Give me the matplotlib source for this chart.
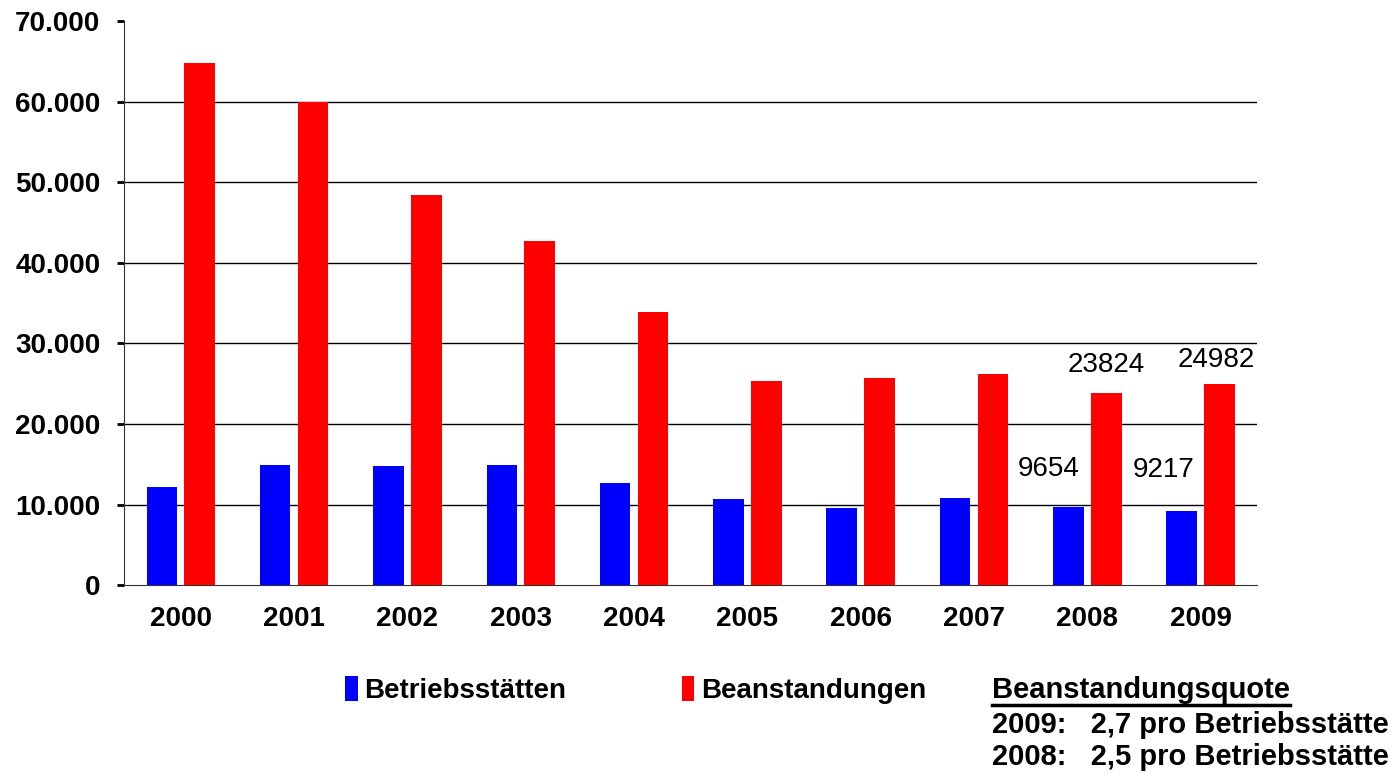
import matplotlib
matplotlib.use("Agg")
import matplotlib.pyplot as plt
from matplotlib.ticker import FuncFormatter
from matplotlib.lines import Line2D
import numpy as np

plt.rcParams['font.family'] = ['Liberation Sans', 'DejaVu Sans']

jahre = ['2000', '2001', '2002', '2003', '2004', '2005', '2006', '2007', '2008', '2009']
betriebe = [12150, 14900, 14750, 14900, 12650, 10650, 9550, 10800, 9654, 9217]
beanstandungen = [64800, 59900, 48400, 42700, 33900, 25300, 25700, 26200, 23824, 24982]
quote_zeilen = ['2009:   2,7 pro Betriebsstätte', '2008:   2,5 pro Betriebsstätte']

fig = plt.figure(figsize=(13.94, 7.75), dpi=100)
ax = fig.add_axes([0.089, 0.245, 0.813, 0.728])

x = np.arange(len(jahre))
w = 0.27
b1 = ax.bar(x - 0.167, betriebe, w, color='#0000ff', label='Betriebsstätten', zorder=3)
b2 = ax.bar(x + 0.167, beanstandungen, w, color='#ff0000', label='Beanstandungen', zorder=3)

ax.set_xlim(-0.5, len(jahre) - 0.5)
ax.set_ylim(0, 70000)
ax.set_yticks(np.arange(0, 70001, 10000))
ax.yaxis.set_major_formatter(FuncFormatter(lambda v, p: f'{int(v):,}'.replace(',', '.')))
ax.set_xticks(x)
ax.set_xticklabels(jahre)

for v in range(10000, 70000, 10000):
    ax.axhline(v, color='black', lw=1.0, zorder=1)

for s in ['top', 'right']:
    ax.spines[s].set_visible(False)
ax.spines['left'].set_color('#333333')
ax.spines['bottom'].set_color('#333333')
ax.tick_params(axis='y', length=5, width=2, pad=12, labelsize=20)
ax.tick_params(axis='x', length=0, pad=15, labelsize=20)
for t in ax.get_xticklabels() + ax.get_yticklabels():
    t.set_fontweight('bold')

# Werte 2008/2009
ax.annotate(str(beanstandungen[8]), (x[8] + 0.167, beanstandungen[8]), xytext=(0, 28),
            textcoords='offset pixels', ha='center', va='center', fontsize=20)
ax.annotate(str(beanstandungen[9]), (x[9] + 0.167, beanstandungen[9]), xytext=(-3, 24),
            textcoords='offset pixels', ha='center', va='center', fontsize=20)
ax.annotate(str(betriebe[8]), (x[8] - 0.167, betriebe[8]), xytext=(-20, 38),
            textcoords='offset pixels', ha='center', va='center', fontsize=20)
ax.annotate(str(betriebe[9]), (x[9] - 0.167, betriebe[9]), xytext=(-18, 41),
            textcoords='offset pixels', ha='center', va='center', fontsize=20)

leg = fig.legend(handles=[b1, b2], loc='center left', bbox_to_anchor=(345 / 1394, 1 - 690 / 775),
                 ncol=2, frameon=False, handlelength=0.45, handleheight=1.0, handletextpad=0.25,
                 columnspacing=4.15, borderaxespad=0, borderpad=0,
                 prop={'weight': 'bold', 'size': 20})

t0 = fig.text(992 / 1394, 1 - 690 / 775, 'Beanstandungsquote', fontsize=21, fontweight='bold',
              ha='left', va='center')
fig.text(992 / 1394, 1 - 725 / 775, quote_zeilen[0], fontsize=21, fontweight='bold',
         ha='left', va='center')
fig.text(992 / 1394, 1 - 757 / 775, quote_zeilen[1], fontsize=21, fontweight='bold',
         ha='left', va='center')

fig.canvas.draw()
bb = t0.get_window_extent().transformed(fig.transFigure.inverted())
fig.add_artist(Line2D([bb.x0, bb.x1], [bb.y0 - 0.001, bb.y0 - 0.001], color='black', lw=2.5,
                      transform=fig.transFigure))

fig.savefig('out.png', dpi=100)
